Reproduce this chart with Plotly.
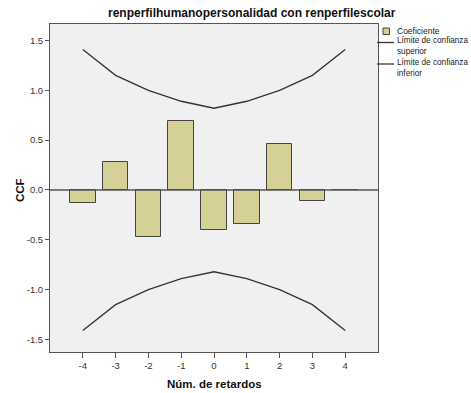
import plotly.graph_objects as go

lags = [-4, -3, -2, -1, 0, 1, 2, 3, 4]
coef = [-0.127, 0.28, -0.47, 0.69, -0.40, -0.34, 0.465, -0.115, 0.005]
upper = [1.41, 1.15, 1.00, 0.89, 0.82, 0.89, 1.00, 1.15, 1.41]
lower = [-1.41, -1.15, -1.00, -0.89, -0.82, -0.89, -1.00, -1.15, -1.41]
yticks = [-1.5, -1.0, -0.5, 0.0, 0.5, 1.0, 1.5]
ytick_text = ["-1.5", "-1.0", "-0.5", "0.0", "0.5", "1.0", "1.5"]

title = "renperfilhumanopersonalidad con renperfilescolar"
x_title = "Núm. de retardos"
y_title = "CCF"
legend_names = ["Coeficiente", "Límite de confianza<br>superior", "Límite de confianza<br>inferior"]

BAR = "#d4d096"
LINE = "#333333"
AX = "#555555"
FONT = "Liberation Sans, Arial, sans-serif"

fig = go.Figure()
fig.add_trace(go.Bar(x=lags, y=coef, width=0.78, marker=dict(color=BAR, line=dict(color="#444444", width=1)),
                     name=legend_names[0], showlegend=False))
fig.add_trace(go.Scatter(x=lags, y=upper, mode="lines", line=dict(color=LINE, width=1.3),
                         name=legend_names[1], showlegend=False))
fig.add_trace(go.Scatter(x=lags, y=lower, mode="lines", line=dict(color=LINE, width=1.3),
                         name=legend_names[2], showlegend=False))

# zero reference line
fig.add_shape(type="line", xref="paper", yref="y", x0=0, x1=1, y0=0, y1=0,
              line=dict(color="#555555", width=1.5), layer="above")

W, H = 471, 393
L, R, T, B = 50, 93, 24, 41
pw = W - L - R
ph = H - T - B

def px(xp):
    return (xp - L) / pw

def py(yp):
    return 1 - (yp - T) / ph

# legend (manual)
fig.add_shape(type="rect", xref="paper", yref="paper", x0=px(383), x1=px(389.5), y0=py(34.5), y1=py(28),
              fillcolor=BAR, line=dict(color="#444444", width=1))
fig.add_annotation(xref="paper", yref="paper", x=px(395), y=py(31), text=legend_names[0], showarrow=False,
                   xanchor="left", yanchor="middle", font=dict(family=FONT, size=8.5, color="#222222"))
for yl, name in [(42.5, legend_names[1]), (64, legend_names[2])]:
    fig.add_shape(type="line", xref="paper", yref="paper", x0=px(377), x1=px(394), y0=py(yl), y1=py(yl),
                  line=dict(color=LINE, width=1.3))
    fig.add_annotation(xref="paper", yref="paper", x=px(395), y=py(yl - 8), text=name, showarrow=False,
                       xanchor="left", yanchor="top", align="left",
                       font=dict(family=FONT, size=8.2, color="#222222"))

fig.add_annotation(xref="paper", yref="paper", x=px(252), y=py(13), text="<b>" + title + "</b>",
                   showarrow=False, xanchor="center", yanchor="middle",
                   font=dict(family=FONT, size=12, color="#111111"))
fig.add_annotation(xref="paper", yref="paper", x=px(214), y=py(384), text="<b>" + x_title + "</b>",
                   showarrow=False, xanchor="center", yanchor="middle",
                   font=dict(family=FONT, size=11.5, color="#111111"))
fig.add_annotation(xref="paper", yref="paper", x=px(20), y=py(190), text="<b>" + y_title + "</b>",
                   showarrow=False, xanchor="center", yanchor="middle", textangle=-90,
                   font=dict(family=FONT, size=11.5, color="#111111"))

fig.update_layout(
    width=W, height=H,
    margin=dict(l=L, r=R, t=T, b=B),
    paper_bgcolor="white",
    plot_bgcolor="#f0f0f0",
    showlegend=False,
    bargap=0,
    xaxis=dict(range=[-5, 5], tickmode="array", tickvals=lags, ticktext=[str(v) for v in lags],
               ticks="outside", ticklen=5, tickcolor=AX, showline=True, linecolor=AX, linewidth=1,
               mirror=True, showgrid=False, zeroline=False, automargin=False,
               tickfont=dict(family=FONT, size=9.5, color="#333333")),
    yaxis=dict(range=[-1.625, 1.665], tickmode="array", tickvals=yticks, ticktext=ytick_text,
               ticks="outside", ticklen=4, tickcolor=AX, showline=True, linecolor=AX, linewidth=1,
               mirror=True, showgrid=False, zeroline=False, automargin=False,
               tickfont=dict(family=FONT, size=9.5, color="#333333")),
)

fig.write_html("out.html")
